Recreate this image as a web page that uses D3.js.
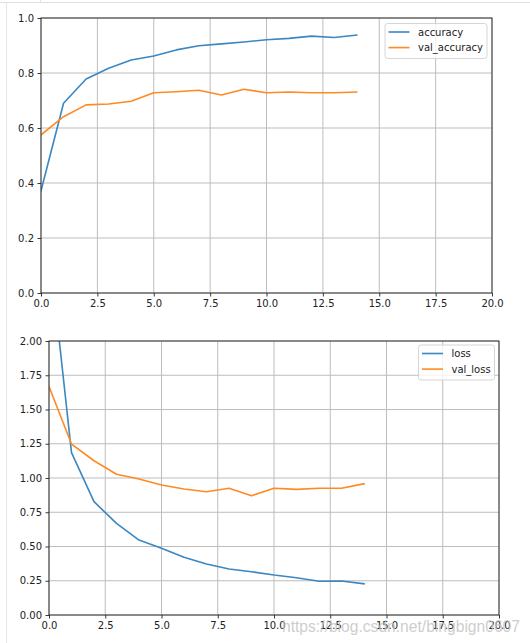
<!DOCTYPE html>
<html><head><meta charset="utf-8">
<script src="https://cdn.jsdelivr.net/npm/d3@7"></script>
<style>
html,body{margin:0;padding:0;background:#fff;}
svg{display:block;font-family:"DejaVu Sans",sans-serif;}
</style></head>
<body>
<svg id="c" width="530" height="643"></svg>
<script>
const epochs = [0,1,2,3,4,5,6,7,8,9,10,11,12,13,14];
const accuracy = [0.372,0.690,0.778,0.817,0.847,0.862,0.884,0.899,0.906,0.913,0.921,0.926,0.934,0.929,0.938];
const valAccuracy = [0.575,0.641,0.684,0.687,0.697,0.728,0.732,0.737,0.720,0.741,0.728,0.731,0.728,0.728,0.731];
const loss = [2.69,1.185,0.827,0.669,0.547,0.487,0.421,0.372,0.336,0.316,0.292,0.272,0.246,0.248,0.228];
const valLoss = [1.667,1.248,1.126,1.027,0.993,0.949,0.920,0.900,0.925,0.871,0.925,0.917,0.925,0.925,0.958];
const xTicks = [0,2.5,5,7.5,10,12.5,15,17.5,20];
const accTicks = [0,0.2,0.4,0.6,0.8,1.0];
const lossTicks = [0,0.25,0.5,0.75,1.0,1.25,1.5,1.75,2.0];
const watermark = "https://blog.csdn.net/bingbign0607";

const svg = d3.select("#c");
const BLUE = "#3a87c2", ORANGE = "#ff8a22";

// notebook frame
svg.append("line").attr("x1",0).attr("x2",530).attr("y1",2.5).attr("y2",2.5).attr("stroke","#e0e0e0").attr("stroke-width",1);
svg.append("line").attr("x1",40.5).attr("x2",40.5).attr("y1",0).attr("y2",2.5).attr("stroke","#e0e0e0").attr("stroke-width",1);
svg.append("line").attr("x1",6.5).attr("x2",6.5).attr("y1",3).attr("y2",643).attr("stroke","#e6e6e6").attr("stroke-width",1);

function panel(cfg){
  const x = d3.scaleLinear().domain([0,20]).range([cfg.x0,cfg.x1]);
  const y = d3.scaleLinear().domain(cfg.yDomain).range([cfg.y1,cfg.y0]);
  const g = svg.append("g");
  const clipId = "clip"+cfg.id;
  svg.append("clipPath").attr("id",clipId).append("rect")
    .attr("x",cfg.x0).attr("y",cfg.y0).attr("width",cfg.x1-cfg.x0).attr("height",cfg.y1-cfg.y0);
  // grid
  g.append("g").selectAll("line").data(xTicks).join("line")
    .attr("x1",d=>x(d)).attr("x2",d=>x(d)).attr("y1",cfg.y0).attr("y2",cfg.y1)
    .attr("stroke","#bdbdbd").attr("stroke-width",1);
  g.append("g").selectAll("line").data(cfg.yTicks).join("line")
    .attr("y1",d=>y(d)).attr("y2",d=>y(d)).attr("x1",cfg.x0).attr("x2",cfg.x1)
    .attr("stroke","#bdbdbd").attr("stroke-width",1);
  // lines
  const line = d3.line().x((d,i)=>x(epochs[i])).y(d=>y(d));
  const lg = g.append("g").attr("clip-path",`url(#${clipId})`);
  cfg.series.forEach(s=>{
    lg.append("path").datum(s.values).attr("d",line).attr("fill","none")
      .attr("stroke",s.color).attr("stroke-width",1.6).attr("stroke-linejoin","round").attr("stroke-linecap","square");
  });
  // axes
  const xa = d3.axisBottom(x).tickValues(xTicks).tickFormat(d3.format(".1f")).tickSizeInner(3.5).tickSizeOuter(0).tickPadding(3.5);
  const ya = d3.axisLeft(y).tickValues(cfg.yTicks).tickFormat(d3.format(cfg.yFmt)).tickSizeInner(3.5).tickSizeOuter(0).tickPadding(3.5);
  const gx = g.append("g").attr("transform",`translate(0,${cfg.y1})`).call(xa);
  const gy = g.append("g").attr("transform",`translate(${cfg.x0},0)`).call(ya);
  [gx,gy].forEach(a=>{
    a.select(".domain").remove();
    a.selectAll("line").attr("stroke","#222").attr("stroke-width",0.9);
    a.selectAll("text").attr("fill","#222").style("font-size","10px").style("font-family","DejaVu Sans");
  });
  // spines
  g.append("rect").attr("x",cfg.x0).attr("y",cfg.y0).attr("width",cfg.x1-cfg.x0).attr("height",cfg.y1-cfg.y0)
    .attr("fill","none").attr("stroke","#222").attr("stroke-width",0.9);
  // legend
  const L = cfg.legend;
  const lgd = g.append("g");
  lgd.append("rect").attr("x",L.x).attr("y",L.y).attr("width",L.w).attr("height",35).attr("rx",2.5)
    .attr("fill","#fff").attr("fill-opacity",0.8).attr("stroke","#cccccc").attr("stroke-width",0.8);
  cfg.series.forEach((s,i)=>{
    const yy = L.y + 8.5 + i*15.6;
    lgd.append("line").attr("x1",L.x+3.5).attr("x2",L.x+24.5).attr("y1",yy).attr("y2",yy)
      .attr("stroke",s.color).attr("stroke-width",1.6);
    lgd.append("text").attr("x",L.x+33).attr("y",yy+3.6).text(s.name)
      .attr("fill","#222").style("font-size","10px");
  });
}

panel({id:"a",x0:41,x1:492,y0:18,y1:293,yDomain:[0,1],yTicks:accTicks,yFmt:".1f",
  series:[{name:"accuracy",values:accuracy,color:BLUE},{name:"val_accuracy",values:valAccuracy,color:ORANGE}],
  legend:{x:385,y:23.5,w:102}});
panel({id:"b",x0:49,x1:499,y0:341,y1:615,yDomain:[0,2],yTicks:lossTicks,yFmt:".2f",
  series:[{name:"loss",values:loss,color:BLUE},{name:"val_loss",values:valLoss,color:ORANGE}],
  legend:{x:418.5,y:345,w:76}});

// watermark
svg.append("text").attr("x",282).attr("y",632).text(watermark)
  .attr("fill","#c4c4c4").attr("fill-opacity",0.85)
  .style("font-family","Liberation Sans, Arial, sans-serif").style("font-size","17px")
  .attr("textLength",238).attr("lengthAdjust","spacingAndGlyphs");
</script>
</body></html>
